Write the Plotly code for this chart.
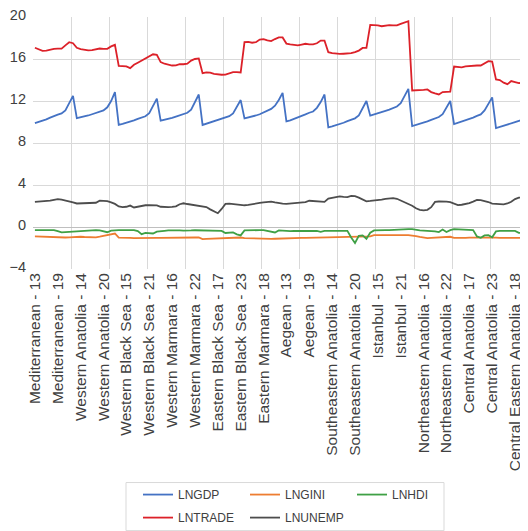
import plotly.graph_objects as go

regions = ["Mediterranean", "Western Anatolia", "Western Black Sea", "Western Marmara",
           "Eastern Black Sea", "Eastern Marmara", "Aegean", "Southeastern Anatolia",
           "Istanbul", "Northeastern Anatolia", "Central Anatolia", "Central Eastern Anatolia"]
years = ["13", "14", "15", "16", "17", "18", "19", "20", "21", "22", "23"]
labels = [f"{r} - {y}" for r in regions for y in years]

lngdp = [
    9.90, 10.00, 10.10, 10.25, 10.42, 10.58, 10.70, 10.82, 11.10, 11.80, 12.48,
    10.37, 10.44, 10.52, 10.62, 10.74, 10.86, 10.96, 11.10, 11.40, 12.00, 12.84,
    9.72, 9.82, 9.92, 10.03, 10.15, 10.30, 10.42, 10.55, 10.85, 11.50, 12.22,
    10.12, 10.20, 10.30, 10.40, 10.52, 10.65, 10.76, 10.88, 11.18, 11.85, 12.62,
    9.72, 9.84, 9.95, 10.05, 10.18, 10.30, 10.42, 10.55, 10.82, 11.45, 12.09,
    10.35, 10.42, 10.52, 10.62, 10.74, 10.90, 11.05, 11.25, 11.55, 12.10, 12.78,
    10.05, 10.15, 10.28, 10.42, 10.58, 10.72, 10.88, 11.00, 11.35, 11.90, 12.62,
    9.49, 9.58, 9.68, 9.80, 9.93, 10.08, 10.20, 10.35, 10.62, 11.30, 12.00,
    10.60, 10.70, 10.82, 10.94, 11.06, 11.18, 11.30, 11.48, 11.80, 12.50, 13.15,
    9.62, 9.72, 9.83, 9.95, 10.06, 10.20, 10.32, 10.47, 10.75, 11.40, 12.00,
    9.80, 9.92, 10.02, 10.14, 10.28, 10.42, 10.58, 10.72, 11.10, 11.75, 12.35,
    9.42, 9.52, 9.62, 9.75, 9.86, 9.98, 10.10, 10.28, 10.55, 11.20, 11.85,
]

lngini = [
    -0.90, -0.92, -0.93, -0.95, -0.97, -0.98, -0.99, -1.00, -1.00, -0.98, -0.95,
    -0.93, -0.93, -0.95, -0.98, -1.00, -0.98, -0.92, -0.85, -0.76, -0.70, -0.62,
    -1.02, -1.05, -1.05, -1.04, -1.05, -1.06, -1.05, -1.05, -1.04, -1.05, -1.04,
    -1.03, -1.02, -1.01, -1.00, -1.00, -1.00, -1.00, -1.00, -1.00, -1.00, -1.00,
    -1.15, -1.14, -1.12, -1.10, -1.08, -1.06, -1.05, -1.04, -1.03, -1.02, -1.00,
    -1.05, -1.07, -1.09, -1.10, -1.12, -1.14, -1.15, -1.14, -1.12, -1.10, -1.07,
    -1.05, -1.05, -1.05, -1.05, -1.04, -1.04, -1.03, -1.02, -1.02, -1.01, -1.00,
    -1.00, -0.99, -0.98, -0.97, -0.96, -0.96, -0.95, -0.95, -0.94, -0.94, -0.93,
    -0.90, -0.78, -0.77, -0.77, -0.77, -0.77, -0.77, -0.77, -0.77, -0.77, -0.77,
    -0.80, -0.86, -0.95, -1.02, -1.05, -1.03, -1.00, -0.98, -0.96, -0.94, -0.93,
    -1.03, -1.05, -1.04, -1.03, -1.02, -1.01, -1.00, -1.00, -1.00, -1.00, -1.00,
    -1.02, -1.03, -1.03, -1.04, -1.04, -1.05, -1.05, -1.05, -1.05, -1.05, -1.05,
]

lnhdi = [
    -0.30, -0.30, -0.30, -0.30, -0.30, -0.30, -0.40, -0.52, -0.49, -0.46, -0.43,
    -0.40, -0.36, -0.33, -0.30, -0.30, -0.30, -0.33, -0.38, -0.50, -0.35, -0.30,
    -0.30, -0.30, -0.30, -0.30, -0.30, -0.39, -0.68, -0.56, -0.56, -0.62, -0.44,
    -0.37, -0.36, -0.33, -0.31, -0.31, -0.33, -0.35, -0.37, -0.33, -0.31, -0.32,
    -0.37, -0.37, -0.37, -0.37, -0.37, -0.37, -0.57, -0.58, -0.52, -0.70, -0.80,
    -0.32, -0.30, -0.30, -0.30, -0.30, -0.30, -0.35, -0.41, -0.52, -0.33, -0.36,
    -0.43, -0.40, -0.38, -0.37, -0.37, -0.37, -0.37, -0.37, -0.37, -0.46, -0.37,
    -0.37, -0.37, -0.37, -0.37, -0.37, -0.37, -1.00, -1.52, -0.85, -0.80, -1.12,
    -0.55, -0.33, -0.30, -0.30, -0.30, -0.30, -0.28, -0.21, -0.21, -0.21, -0.21,
    -0.21, -0.29, -0.33, -0.34, -0.35, -0.36, -0.42, -0.48, -0.24, -0.47, -0.30,
    -0.21, -0.22, -0.24, -0.26, -0.28, -0.30, -0.90, -1.03, -0.80, -0.78, -0.98,
    -0.42, -0.37, -0.37, -0.37, -0.37, -0.37, -0.55, -0.62, -0.62, -0.62, -0.62,
]

lntrade = [
    17.07, 16.95, 16.78, 16.80, 16.92, 16.97, 16.98, 16.98, 17.30, 17.60, 17.50,
    17.07, 16.95, 16.85, 16.82, 16.85, 16.95, 17.00, 16.97, 16.97, 17.20, 17.35,
    15.35, 15.35, 15.30, 15.13, 15.45, 15.65, 15.85, 16.00, 16.20, 16.45, 16.40,
    15.70, 15.55, 15.45, 15.38, 15.40, 15.50, 15.50, 15.55, 15.85, 16.00, 16.05,
    14.65, 14.72, 14.70, 14.58, 14.52, 14.50, 14.52, 14.60, 14.75, 14.75, 14.72,
    17.60, 17.62, 17.55, 17.60, 17.85, 17.90, 17.78, 17.70, 17.90, 18.05, 18.05,
    17.47, 17.40, 17.35, 17.30, 17.38, 17.45, 17.40, 17.40, 17.50, 17.75, 17.75,
    16.65, 16.55, 16.50, 16.48, 16.50, 16.50, 16.55, 16.65, 16.80, 17.05, 17.05,
    19.25, 19.25, 19.20, 19.12, 19.20, 19.22, 19.20, 19.20, 19.35, 19.50, 19.60,
    13.00, 13.00, 13.00, 13.05, 13.10, 12.85, 12.72, 12.62, 12.85, 12.90, 12.90,
    15.28, 15.25, 15.20, 15.30, 15.35, 15.38, 15.38, 15.38, 15.60, 15.80, 15.75,
    14.05, 14.00, 13.75, 13.60, 13.90, 13.80, 13.70, 13.75, 13.95, 14.05, 14.10,
]

lnunemp = [
    2.39, 2.41, 2.43, 2.45, 2.51, 2.59, 2.66, 2.60, 2.53, 2.44, 2.35,
    2.24, 2.25, 2.32, 2.31, 2.28, 2.31, 2.51, 2.49, 2.46, 2.34, 2.20,
    1.96, 1.89, 1.93, 2.04, 1.86, 1.93, 2.07, 2.07, 2.07, 2.07, 2.06,
    1.93, 1.89, 1.89, 1.92, 1.97, 2.17, 2.26, 2.19, 2.14, 2.09, 2.03,
    1.96, 1.90, 1.68, 1.47, 1.31, 1.72, 2.20, 2.23, 2.20, 2.13, 2.07,
    2.07, 2.10, 2.18, 2.24, 2.29, 2.34, 2.40, 2.42, 2.35, 2.27, 2.23,
    2.20, 2.23, 2.26, 2.27, 2.29, 2.37, 2.50, 2.47, 2.41, 2.39, 2.39,
    2.70, 2.78, 2.85, 2.92, 2.87, 2.85, 2.96, 2.94, 2.80, 2.63, 2.45,
    2.48, 2.50, 2.55, 2.61, 2.68, 2.72, 2.75, 2.69, 2.53, 2.38, 2.20,
    2.03, 1.78, 1.64, 1.59, 1.64, 1.89, 2.39, 2.43, 2.44, 2.41, 2.37,
    2.19, 2.08, 2.12, 2.19, 2.28, 2.42, 2.57, 2.56, 2.48, 2.38, 2.23,
    2.19, 2.16, 2.15, 2.24, 2.40, 2.66, 2.79, 2.83, 2.74, 2.70, 2.68,
]

y_ticks = [-4, 0, 4, 8, 12, 16, 20]

series = [
    ("LNGDP", lngdp, "#4472C4", "legend"),
    ("LNGINI", lngini, "#ED7D31", "legend"),
    ("LNHDI", lnhdi, "#3FA045", "legend"),
    ("LNTRADE", lntrade, "#DC2129", "legend2"),
    ("LNUNEMP", lnunemp, "#4D4D4D", "legend2"),
]

FONT = "Liberation Sans"
x = list(range(len(labels)))

fig = go.Figure()
for name, vals, color, leg in series:
    fig.add_trace(go.Scatter(x=x, y=vals, mode="lines", name=name,
                             line=dict(color=color, width=1.8), legend=leg,
                             customdata=labels, hovertemplate="%{customdata}: %{y}<extra>" + name + "</extra>"))

# page body has an 8px default margin: figure origin sits at (8, 8) in the window
W, H = 520, 523
L, T = 25, 9
PW = 495
PH = 260.7 - T
B = H - T - PH


def px_to_paper_x(px):
    return (px - 8 - L) / PW


def px_to_paper_y(py):
    return (T + PH - (py - 8)) / PH


tick_step = 6
grid_step = 10
legend_common = dict(orientation="h", xref="paper", yref="paper", xanchor="left", yanchor="middle",
                     entrywidth=62, bgcolor="rgba(0,0,0,0)", borderwidth=0,
                     font=dict(family=FONT, size=12, color="#404040"))
fig.update_layout(
    width=W, height=H,
    margin=dict(l=L, r=0, t=T, b=B, pad=0, autoexpand=False),
    paper_bgcolor="white", plot_bgcolor="white",
    font=dict(family=FONT, color="#404040"),
    xaxis=dict(
        range=[-0.5, 129.4], automargin=False,
        tickmode="array", tickvals=x[::tick_step], ticktext=labels[::tick_step],
        tickangle=-90, showgrid=False, zeroline=False, showline=False, ticks="",
        tickfont=dict(family=FONT, size=15.5, color="#404040"),
        minor=dict(tickmode="array",
                   tickvals=[v - 0.5 for v in x if v > 0 and v % grid_step == 0],
                   showgrid=True, gridcolor="#D9D9D9", gridwidth=1, ticks=""),
    ),
    yaxis=dict(
        range=[y_ticks[0], y_ticks[-1]], tickmode="array", tickvals=y_ticks, automargin=False,
        showgrid=False, ticklabelstandoff=6, ticklabeloverflow="allow", ticklabelshift=-2,
        zeroline=True, zerolinecolor="#BFBFBF", zerolinewidth=1, showline=False, ticks="",
        tickfont=dict(family=FONT, size=14.5, color="#404040"),
        minor=dict(tickmode="array", tickvals=[v for v in y_ticks if v not in (0, y_ticks[0], y_ticks[-1])],
                   showgrid=True, gridcolor="#D9D9D9", gridwidth=1, ticks=""),
    ),
    legend=dict(legend_common, x=px_to_paper_x(138), y=px_to_paper_y(494)),
    legend2=dict(legend_common, x=px_to_paper_x(138), y=px_to_paper_y(517)),
    shapes=[dict(type="rect", xref="paper", yref="paper",
                 x0=px_to_paper_x(126), x1=px_to_paper_x(444),
                 y0=px_to_paper_y(530), y1=px_to_paper_y(482),
                 line=dict(color="#D9D9D9", width=1),
                 fillcolor="rgba(0,0,0,0)", layer="below")],
    showlegend=True,
)

fig.write_html("out.html")
